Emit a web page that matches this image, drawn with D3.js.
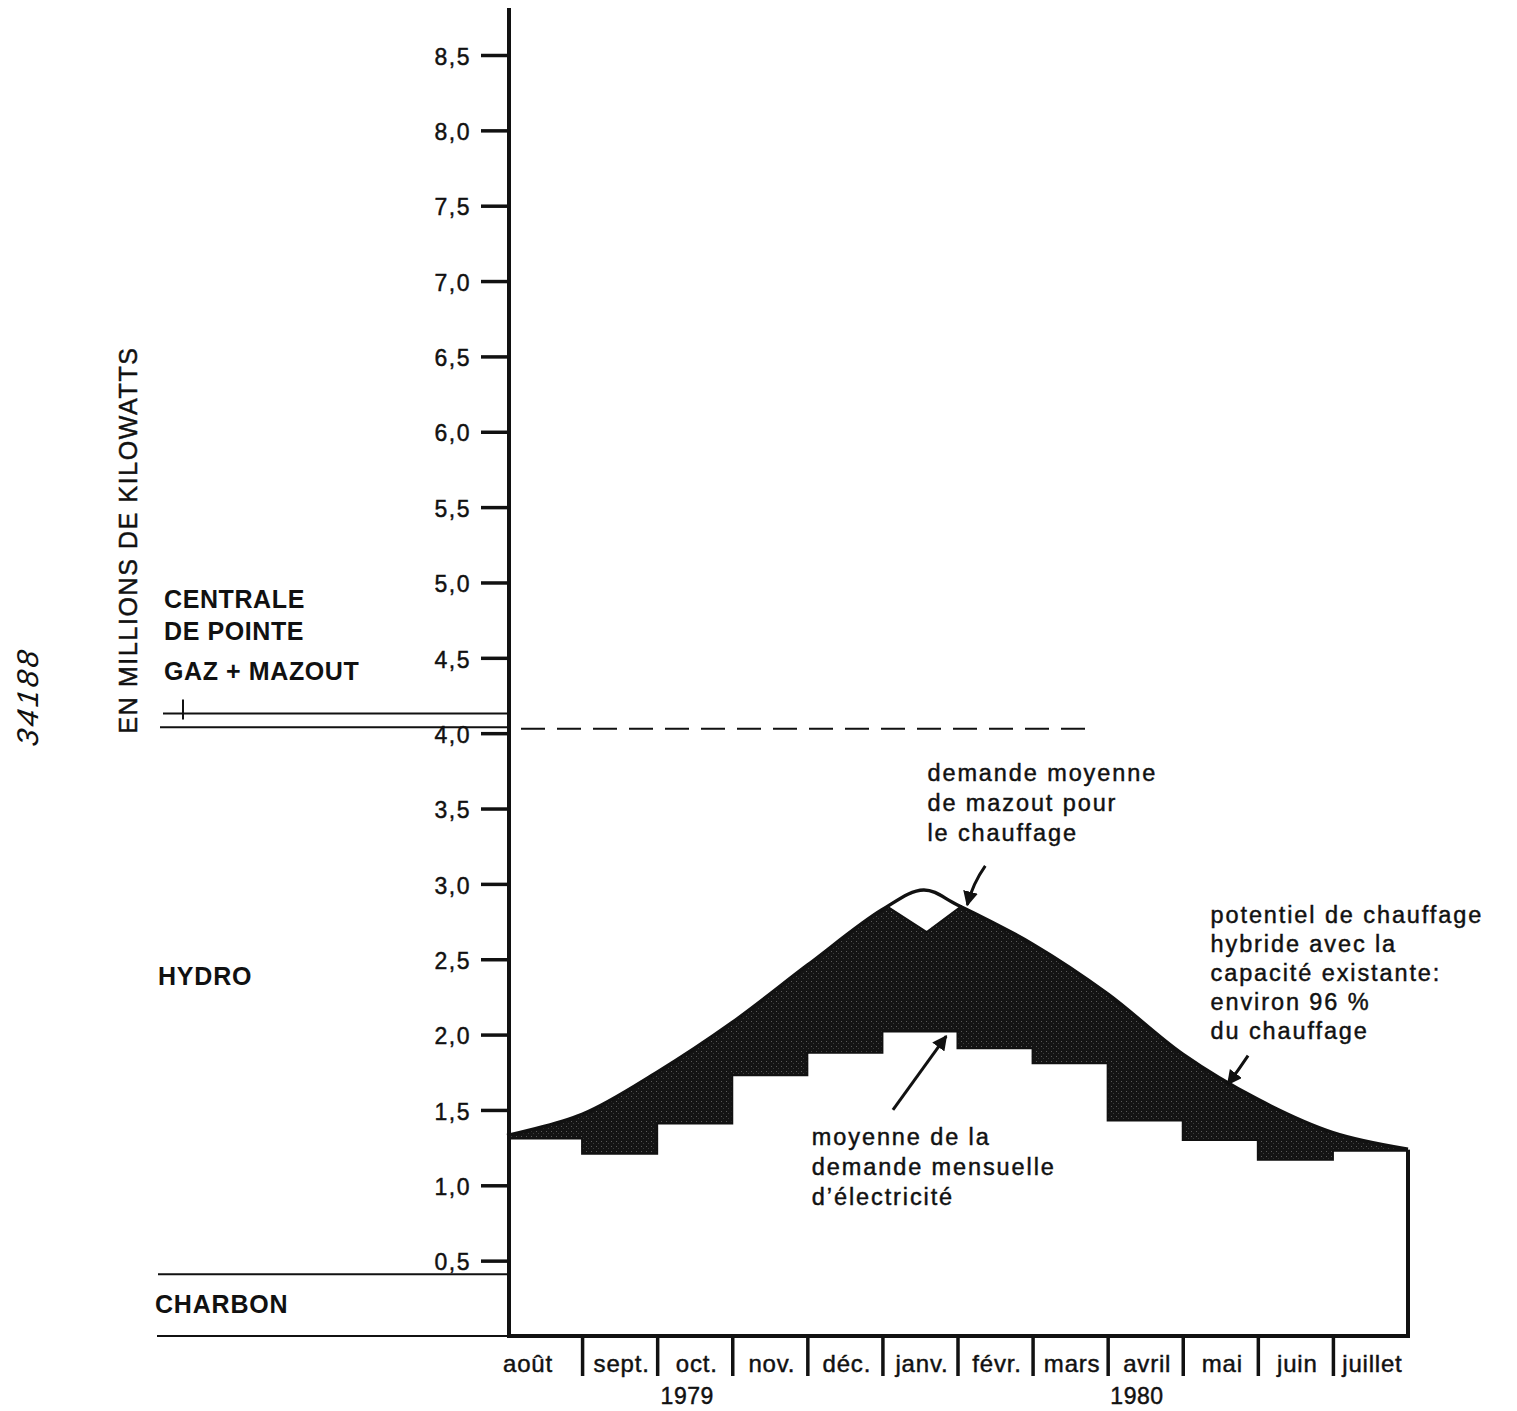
<!DOCTYPE html>
<html><head><meta charset="utf-8">
<script src="https://cdn.jsdelivr.net/npm/d3@7"></script>
<style>
html,body{margin:0;padding:0;background:#fff;}
svg{display:block;}
text{font-family:"Liberation Sans",Arial,Helvetica,sans-serif;fill:#111;}
text.thick{stroke:#111;stroke-width:0.45px;}
</style></head>
<body>
<svg id="chart" width="1517" height="1411"></svg>
<script>
// ---------- data ----------
const months = ["août","sept.","oct.","nov.","déc.","janv.","févr.","mars","avril","mai","juin","juillet"];
const monthlyDemand = [1.31,1.21,1.41,1.73,1.88,2.02,1.91,1.81,1.43,1.30,1.17,1.23];
const hybridPos = [0,1,2,3,4,5,5.55,6,7,8,9,10,11,12];
const hybridVal = [1.33,1.47,1.75,2.08,2.46,2.83,2.96,2.86,2.60,2.27,1.87,1.57,1.35,1.24];
const mazoutPos = [5.08,5.59,6.06];
const mazoutVal = [2.845,2.68,2.855];
const yTicks = [0.5,1,1.5,2,2.5,3,3.5,4,4.5,5,5.5,6,6.5,7,7.5,8,8.5];
const yTickLabels = ["0,5","1,0","1,5","2,0","2,5","3,0","3,5","4,0","4,5","5,0","5,5","6,0","6,5","7,0","7,5","8,0","8,5"];
const years = ["1979","1980"];
const yearPos = [2.4,8.39];
const sourceLabels = [["CENTRALE","DE POINTE","GAZ + MAZOUT"],["HYDRO"],["CHARBON"]];
const peakLines = [4.13,4.04];
const peakDashed = 4.03;
const coalTop = 0.41;
const yTitle = "EN MILLIONS DE KILOWATTS";
const noteMazout = ["demande moyenne","de mazout pour","le chauffage"];
const noteHybrid = ["potentiel de chauffage","hybride avec la","capacité existante:","environ 96 %","du chauffage"];
const noteDemand = ["moyenne de la","demande mensuelle","d’électricité"];

// ---------- scales ----------
const svg = d3.select("#chart");
const x = d3.scaleLinear().domain([0,12]).range([507,1408]);
const y = d3.scaleLinear().domain([0,8.5]).range([1336,55]);
const X0 = x(0), XL = 157;

// texture for the dark area
const defs = svg.append("defs");
const pat = defs.append("pattern").attr("id","stip").attr("width",5).attr("height",5).attr("patternUnits","userSpaceOnUse");
pat.append("rect").attr("width",5).attr("height",5).attr("fill","#141414");
pat.append("rect").attr("x",1).attr("y",1).attr("width",1).attr("height",1).attr("fill","#5a5a5a");
pat.append("rect").attr("x",3).attr("y",3).attr("width",1).attr("height",1).attr("fill","#3c3c3c");
defs.append("marker").attr("id","arr").attr("viewBox","0 0 10 10").attr("refX",9).attr("refY",5)
  .attr("markerWidth",5).attr("markerHeight",5).attr("orient","auto")
  .append("path").attr("d","M0,0 L10,5 L0,10 Z").attr("fill","#111");

const hybrid = hybridPos.map((p,i)=>[p,hybridVal[i]]);
const curveGen = d3.line().x(d=>x(d[0])).y(d=>y(d[1])).curve(d3.curveCatmullRom.alpha(0.5));
const areaGen = d3.area().x(d=>x(d[0])).y0(y(0)).y1(d=>y(d[1])).curve(d3.curveCatmullRom.alpha(0.5));

// dark area under the hybrid curve
svg.append("path").attr("d",areaGen(hybrid)).attr("fill","url(#stip)");

// monthly demand steps (white, one shape)
const stair = [];
monthlyDemand.forEach((d,i)=>{stair.push([i,d]);stair.push([i+1,d]);});
svg.append("path").attr("d",d3.area().x(d=>x(d[0])).y0(y(0)+1).y1(d=>y(d[1])).curve(d3.curveLinear)(stair))
  .attr("fill","#fff");
svg.append("path").attr("d",d3.line().x(d=>x(d[0])).y(d=>y(d[1])).curve(d3.curveLinear)(stair))
  .attr("fill","none").attr("stroke","#111").attr("stroke-width",2);

// white diamond: average oil demand for heating
const diamond = [[mazoutPos[0],3.4]].concat(mazoutPos.map((p,i)=>[p,mazoutVal[i]])).concat([[mazoutPos[2],3.4]]);
svg.append("path").attr("d",d3.line().x(d=>x(d[0])).y(d=>y(d[1]))(diamond)+"Z").attr("fill","#fff");
svg.append("path").attr("d",d3.line().x(d=>x(d[0])).y(d=>y(d[1]))(mazoutPos.map((p,i)=>[p,mazoutVal[i]])))
  .attr("fill","none").attr("stroke","#111").attr("stroke-width",2);
// hybrid curve outline
svg.append("path").attr("d",curveGen(hybrid)).attr("fill","none").attr("stroke","#111").attr("stroke-width",3.5);

// right edge and baseline
svg.append("line").attr("x1",x(12)).attr("x2",x(12)).attr("y1",y(monthlyDemand[11])-1).attr("y2",y(0))
  .attr("stroke","#111").attr("stroke-width",4);
svg.append("line").attr("x1",XL).attr("x2",X0).attr("y1",y(0)).attr("y2",y(0)).attr("stroke","#111").attr("stroke-width",2);
svg.append("line").attr("x1",X0).attr("x2",x(12)+2).attr("y1",y(0)).attr("y2",y(0)).attr("stroke","#111").attr("stroke-width",4);

// month dividers
const xAxis = d3.axisBottom(x).tickValues(d3.range(1,12)).tickSize(40).tickFormat("");
const gx = svg.append("g").attr("transform",`translate(0,${y(0)})`).call(xAxis);
gx.select(".domain").remove();
gx.selectAll(".tick line").attr("stroke","#111").attr("stroke-width",3.5);
svg.selectAll("text.month").data(months).join("text").attr("class","month thick")
  .attr("x",(d,i)=> i===0 ? x(0)-4 : (x(i)+x(i+1))/2+2)
  .attr("y",y(0)+36).attr("text-anchor",(d,i)=>i===0?"start":"middle")
  .attr("font-size",24).attr("letter-spacing",0.8).text(d=>d);
svg.selectAll("text.year").data(years).join("text").attr("class","year thick")
  .attr("x",(d,i)=>x(yearPos[i])).attr("y",y(0)+68).attr("text-anchor","middle")
  .attr("font-size",23).attr("letter-spacing",0.5).text(d=>d);

// y axis
const yAxis = d3.axisLeft(y).tickValues(yTicks).tickSize(28).tickPadding(10)
  .tickFormat((d,i)=>yTickLabels[i]);
const gy = svg.append("g").attr("transform",`translate(${X0+2},0)`).call(yAxis);
gy.select(".domain").remove();
gy.selectAll(".tick line").attr("stroke","#111").attr("stroke-width",3.5);
gy.selectAll(".tick text").attr("class","thick").attr("font-size",23).attr("letter-spacing",1.5).attr("fill","#111")
  .attr("font-family","Liberation Sans, Arial, sans-serif").attr("dy","0.4em");
svg.append("line").attr("x1",X0+2).attr("x2",X0+2).attr("y1",8).attr("y2",y(0)+2)
  .attr("stroke","#111").attr("stroke-width",4);

// source boundary lines on the left
peakLines.forEach((v,i)=>{
  svg.append("line").attr("x1",XL+(i===0?6:3)).attr("x2",X0).attr("y1",y(v)).attr("y2",y(v))
    .attr("stroke","#111").attr("stroke-width",2);
});
svg.append("path").attr("d",`M${XL+26},${y(peakLines[0])-14} L${XL+26},${y(peakLines[0])+6}`)
  .attr("stroke","#111").attr("stroke-width",2).attr("fill","none");
svg.append("line").attr("x1",X0+14).attr("x2",x(7.7)).attr("y1",y(peakDashed)).attr("y2",y(peakDashed))
  .attr("stroke","#111").attr("stroke-width",2).attr("stroke-dasharray","24,12");
svg.append("line").attr("x1",XL+1).attr("x2",X0).attr("y1",y(coalTop)).attr("y2",y(coalTop))
  .attr("stroke","#111").attr("stroke-width",2);

// source labels
function lab(txt,xx,yy,sz,w,ls){
  return svg.append("text").attr("x",xx).attr("y",yy).attr("font-size",sz).attr("font-weight",w||"normal")
    .attr("letter-spacing",ls||0).text(txt);
}
lab(sourceLabels[0][0],XL+7,y(4.85)+3,25,"bold",0.6);
lab(sourceLabels[0][1],XL+7,y(4.64)+3,25,"bold",0.6);
lab(sourceLabels[0][2],XL+7,y(4.37)+3,25,"bold",0.6);
lab(sourceLabels[1][0],XL+1,y(2.33),25,"bold",0.8);
lab(sourceLabels[2][0],XL-2,y(0.15),25,"bold",0.8);

// y title
svg.append("text").attr("class","thick").attr("transform",`translate(${137},${540}) rotate(-90)`).attr("text-anchor","middle")
  .attr("font-size",25).attr("letter-spacing",1.6).text(yTitle);
// handwritten reference number
svg.append("text").attr("transform",`translate(${38},${698}) rotate(-90) skewX(-8)`).attr("text-anchor","middle")
  .attr("font-family","DejaVu Serif, serif").attr("font-style","italic")
  .attr("font-size",30).attr("letter-spacing",3).attr("fill","#333").text("34188");

// annotations
function note(lines,t,v,gap){
  lines.forEach((l,i)=>{
    svg.append("text").attr("class","thick").attr("x",x(t)).attr("y",y(v)+i*gap).attr("font-size",23.5)
      .attr("letter-spacing",1.9).text(l);
  });
}
note(noteMazout,5.6,3.68,30);
note(noteHybrid,9.37,2.74,29);
note(noteDemand,4.06,1.27,30);

function arrow(p0,pc,p1){
  const a=[x(p0[0]),y(p0[1])],c=[x(pc[0]),y(pc[1])],b=[x(p1[0]),y(p1[1])];
  svg.append("path").attr("d",`M${a[0]},${a[1]} Q${c[0]},${c[1]} ${b[0]},${b[1]}`)
    .attr("fill","none").attr("stroke","#111").attr("stroke-width",3).attr("marker-end","url(#arr)");
}
arrow([6.37,3.12],[6.2,3.0],[6.13,2.86]);
arrow([5.14,1.50],[5.5,1.75],[5.85,1.99]);
arrow([9.87,1.86],[9.75,1.77],[9.60,1.67]);
</script>
</body></html>
